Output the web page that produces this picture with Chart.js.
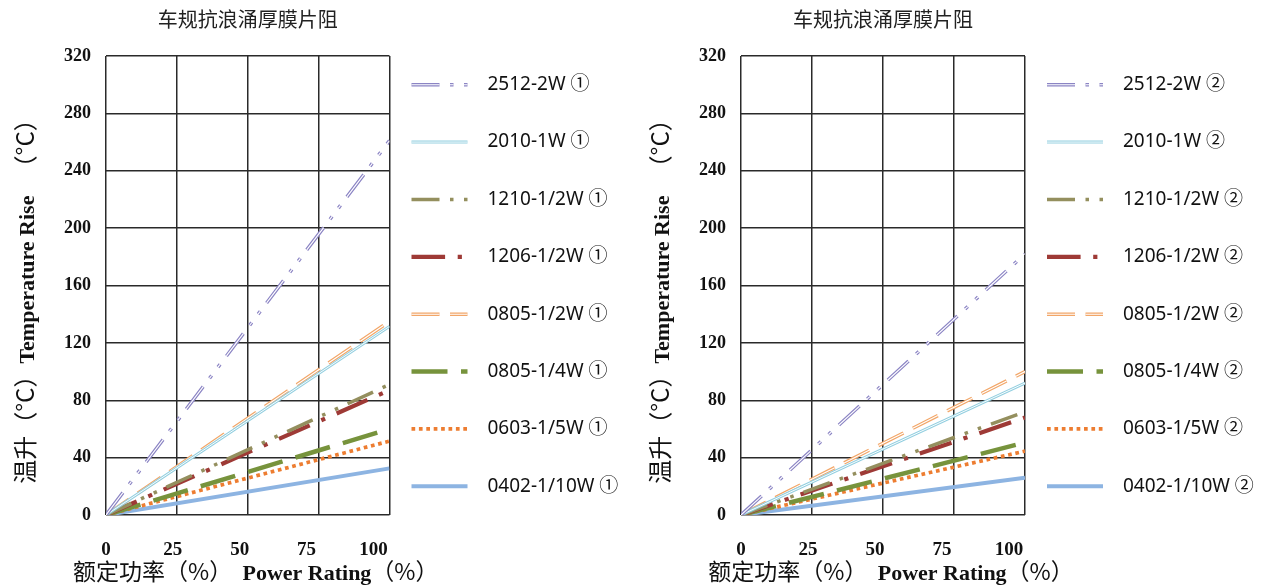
<!DOCTYPE html>
<html lang="zh">
<head>
<meta charset="UTF-8">
<title>车规抗浪涌厚膜片阻</title>
<script src="https://cdn.jsdelivr.net/npm/chart.js"></script>
<style>
    body { margin: 0; background: #fff; }
    .panel { position: absolute; top: 0; height: 586px; }
    #p1 { left: 0; width: 635px; }
    #p2 { left: 635px; width: 629px; }
</style>
</head>
<body>
<div class="panel" id="p1"><canvas id="c1"></canvas></div>
<div class="panel" id="p2"><canvas id="c2"></canvas></div>

<script>
// ---- data ----
const panelTitle = '车规抗浪涌厚膜片阻';
const seriesNames = ['2512-2W', '2010-1W', '1210-1/2W', '1206-1/2W', '0805-1/2W', '0805-1/4W', '0603-1/5W', '0402-1/10W'];
// power rating (%) at the origin and at the right edge of the plot
const powerRating = [0, 106];
// temperature rise (°C) for each series, left chart ① and right chart ②
const riseSet1 = [[0, 261], [0, 131.5], [0, 91], [0, 87], [0, 135], [0, 60], [0, 51.5], [0, 32.5]];
const riseSet2 = [[0, 182], [0, 92], [0, 72], [0, 68], [0, 100], [0, 50.5], [0, 44.5], [0, 26]];
const xTickValues = [0, 25, 50, 75, 100];
const yTickValues = [0, 40, 80, 120, 160, 200, 240, 280, 320];

// ---- styles ----
const seriesColors = ['#8b84c4', '#93cfe0', '#948f5e', '#9e3a36', '#f2a668', '#77933c', '#ed7d31', '#8db4e2'];
const seriesWidths = [3.5, 3, 3.5, 4.2, 3.5, 4.5, 3.7, 4];
const seriesDash = ['lgDashDotDot', 'solid', 'lgDashDotDot', 'lgDashDot', 'lgDash', 'lgDash', 'sqDot', 'solid'];
const seriesDouble = [true, true, false, false, true, false, false, false];

const cjkFont = "'Noto Sans CJK SC', 'Noto Sans', sans-serif";
const serifFont = "'Liberation Serif', 'Times New Roman', serif";
const legendFont = "'Noto Sans', 'Noto Sans CJK SC', sans-serif";

function dashFor(kind, w) {
    if (kind === 'lgDashDotDot') return [8 * w, 3 * w, w, 3 * w, w, 3 * w];
    if (kind === 'lgDashDot') return [8 * w, 3 * w, w, 3 * w];
    if (kind === 'lgDash') return [8 * w, 3 * w];
    if (kind === 'sqDot') return [w, w];
    return [];
}

function buildDatasets(riseSet) {
    const sets = [];
    riseSet.forEach((vals, i) => {
        const w = seriesWidths[i];
        const pts = vals.map((v, k) => ({ x: powerRating[k], y: v }));
        sets.push({
            label: seriesNames[i],
            data: pts,
            borderColor: seriesColors[i],
            borderWidth: w,
            borderDash: dashFor(seriesDash[i], w),
            pointRadius: 0,
            order: i * 2 + 1,
            xAxisID: 'x'
        });
        if (seriesDouble[i]) {
            // white core line gives the double-line look
            sets.push({
                label: seriesNames[i] + ' core',
                data: pts,
                borderColor: '#ffffff',
                borderWidth: w * 0.32,
                borderDash: dashFor(seriesDash[i], w),
                pointRadius: 0,
                order: i * 2,
                xAxisID: 'x'
            });
        }
    });
    return sets;
}

function drawParts(ctx, parts, cx, baseY) {
    let total = 0;
    parts.forEach(p => { ctx.font = p.font; p.w = ctx.measureText(p.text).width; total += p.w; });
    let x = cx - total / 2;
    ctx.textAlign = 'left';
    ctx.textBaseline = 'alphabetic';
    parts.forEach(p => { ctx.font = p.font; ctx.fillText(p.text, x, baseY); x += p.w; });
}

// axis titles with mixed Chinese / English fonts, and the legend at the right
const decorPlugin = {
    id: 'decor',
    afterDraw(chart, args, opts) {
        const ctx = chart.ctx;
        const a = chart.chartArea;
        ctx.save();
        ctx.fillStyle = '#111';

        // y title (rotated)
        ctx.save();
        ctx.translate(34, (a.top + a.bottom) / 2 + 10);
        ctx.rotate(-Math.PI / 2);
        drawParts(ctx, [
            { text: '温升（°C）', font: '24px ' + cjkFont },
            { text: 'Temperature Rise', font: 'bold 22px ' + serifFont },
            { text: '   （°C）', font: '24px ' + cjkFont }
        ], 0, 0);
        ctx.restore();

        // x title
        drawParts(ctx, [
            { text: '额定功率（%）  ', font: '23px ' + cjkFont },
            { text: 'Power Rating', font: 'bold 22px ' + serifFont },
            { text: '（%）', font: '23px ' + cjkFont }
        ], (a.left + a.right) / 2 + 8, 580);

        // legend
        const step = (a.bottom - a.top) / seriesNames.length;
        seriesNames.forEach((name, i) => {
            const y = a.top + (i + 0.5) * step;
            const x0 = a.right + 22, x1 = a.right + 78;
            const w = seriesWidths[i];
            ctx.save();
            ctx.lineCap = 'butt';
            ctx.setLineDash(dashFor(seriesDash[i], w));
            ctx.strokeStyle = seriesColors[i];
            ctx.lineWidth = w;
            ctx.beginPath(); ctx.moveTo(x0, y); ctx.lineTo(x1, y); ctx.stroke();
            if (seriesDouble[i]) {
                ctx.strokeStyle = '#ffffff';
                ctx.lineWidth = w * 0.32;
                ctx.beginPath(); ctx.moveTo(x0, y); ctx.lineTo(x1, y); ctx.stroke();
            }
            ctx.restore();
            ctx.font = '19px ' + legendFont;
            ctx.textAlign = 'left';
            ctx.textBaseline = 'middle';
            ctx.fillStyle = '#111';
            ctx.fillText(name + ' ' + opts.tag, a.right + 98, y);
        });
        ctx.restore();
    }
};

function makeChart(canvasId, riseSet, tag, padRight) {
    const gridColor = '#2a2a2a';
    return new Chart(document.getElementById(canvasId), {
        type: 'line',
        data: { datasets: buildDatasets(riseSet) },
        options: {
            responsive: true,
            maintainAspectRatio: false,
            animation: false,
            layout: { padding: { top: 0, right: padRight, bottom: 0, left: 0 } },
            plugins: {
                legend: { display: false },
                tooltip: { enabled: false },
                title: {
                    display: true,
                    text: panelTitle,
                    fullSize: false,
                    color: '#222',
                    font: { family: cjkFont, size: 20, weight: 'normal' },
                    padding: { top: 7, bottom: 25 }
                },
                decor: { tag: tag }
            },
            scales: {
                x: {
                    type: 'linear',
                    position: 'bottom',
                    min: 0,
                    max: 106,
                    afterBuildTicks: s => { s.ticks = xTickValues.map(v => ({ value: v })); },
                    afterFit: s => { s.height = 71; },
                    grid: { display: false },
                    border: { display: false },
                    ticks: {
                        padding: 16,
                        color: '#111',
                        font: { family: serifFont, size: 19, weight: 'bold' }
                    }
                },
                cols: {
                    type: 'linear',
                    axis: 'x',
                    position: 'bottom',
                    min: 0,
                    max: 4,
                    afterFit: s => { s.height = 0; },
                    ticks: { display: false, stepSize: 1 },
                    grid: { color: gridColor, lineWidth: 1.5, drawTicks: false },
                    border: { display: false }
                },
                y: {
                    type: 'linear',
                    min: 0,
                    max: 320,
                    afterBuildTicks: s => { s.ticks = yTickValues.map(v => ({ value: v })); },
                    afterFit: s => { s.width = 106; },
                    grid: { color: gridColor, lineWidth: 1.5, drawTicks: false },
                    border: { display: false },
                    ticks: {
                        padding: 15,
                        color: '#111',
                        font: { family: serifFont, size: 18, weight: 'bold' }
                    }
                }
            }
        },
        plugins: [decorPlugin]
    });
}

makeChart('c1', riseSet1, '①', 245.5);
makeChart('c2', riseSet2, '②', 239);
</script>
</body>
</html>
